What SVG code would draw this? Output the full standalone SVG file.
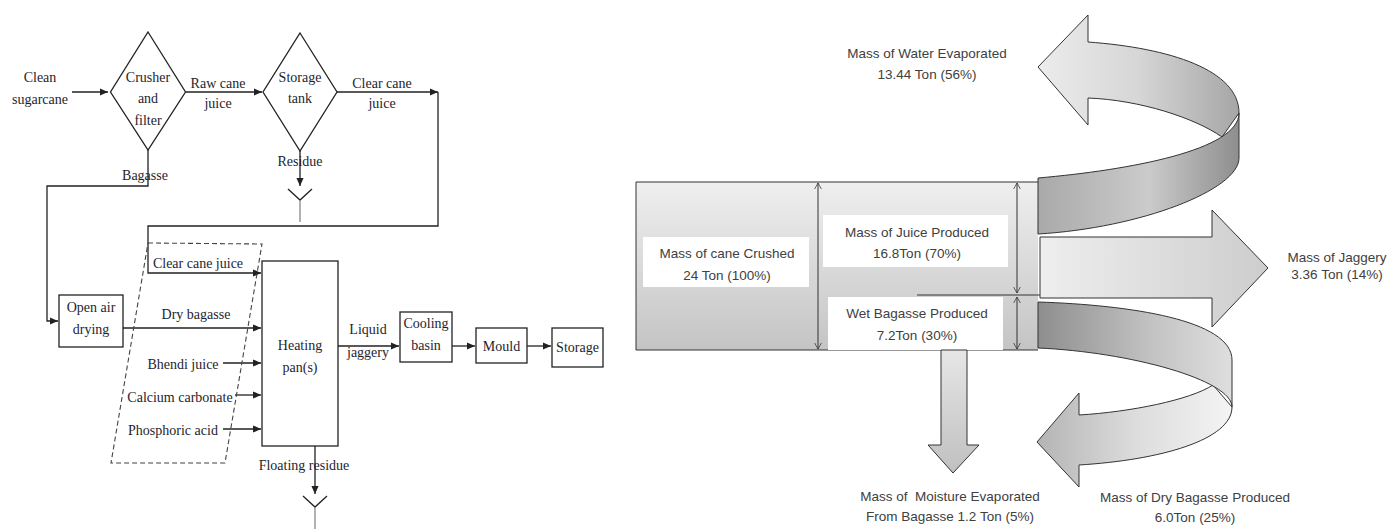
<svg xmlns="http://www.w3.org/2000/svg" width="1389" height="529" viewBox="0 0 1389 529">
<style>
.fc{fill:none;stroke:#222;stroke-width:1.3}
.fb{fill:#fff;stroke:#222;stroke-width:1.3}
.ft{font-family:"Liberation Serif","Times New Roman",serif;font-size:14px;fill:#1e1e2e;text-anchor:middle}
.gr{fill:none;stroke:#888;stroke-width:1.3}
.sk{stroke:#333;stroke-width:1}
.st{font-family:"Liberation Sans",Arial,sans-serif;font-size:13.5px;fill:#404040;text-anchor:middle}
.dim{fill:none;stroke:#333;stroke-width:1}
</style>
<defs>
<marker id="ah" viewBox="0 0 10 10" refX="10" refY="5" markerWidth="9" markerHeight="8" markerUnits="userSpaceOnUse" orient="auto">
<path d="M0,0.5 L10,5 L0,9.5 z" fill="#222"/>
</marker>
<marker id="oa" viewBox="0 0 8 10" refX="8" refY="5" markerWidth="6" markerHeight="8" markerUnits="userSpaceOnUse" orient="auto-start-reverse">
<path d="M0,0.5 L8,5 L0,9.5" fill="none" stroke="#333" stroke-width="1"/>
</marker>
<linearGradient id="gRect" x1="0" y1="0" x2="0" y2="1">
<stop offset="0" stop-color="#efefef"/><stop offset="1" stop-color="#c4c4c4"/>
</linearGradient>
<linearGradient id="gDown" x1="0" y1="0" x2="0" y2="1">
<stop offset="0" stop-color="#e6e6e6"/><stop offset="1" stop-color="#c0c0c0"/>
</linearGradient>
<linearGradient id="gJag" x1="0" y1="0" x2="1" y2="0">
<stop offset="0" stop-color="#eeeeee"/><stop offset="1" stop-color="#cdcdcd"/>
</linearGradient>
<linearGradient id="gTopBack" gradientUnits="userSpaceOnUse" x1="1038" y1="0" x2="1239" y2="0">
<stop offset="0" stop-color="#ececec"/><stop offset="0.5" stop-color="#d6d6d6"/><stop offset="1" stop-color="#a6a6a6"/>
</linearGradient>
<linearGradient id="gTopFront" gradientUnits="userSpaceOnUse" x1="1038" y1="0" x2="1239" y2="0">
<stop offset="0" stop-color="#a9a9a9"/><stop offset="0.55" stop-color="#cbcbcb"/><stop offset="1" stop-color="#8e8e8e"/>
</linearGradient>
<linearGradient id="gBotFront" gradientUnits="userSpaceOnUse" x1="1038" y1="0" x2="1232" y2="0">
<stop offset="0" stop-color="#8e8e8e"/><stop offset="0.6" stop-color="#c4c4c4"/><stop offset="1" stop-color="#dedede"/>
</linearGradient>
<linearGradient id="gBotBack" gradientUnits="userSpaceOnUse" x1="1037" y1="0" x2="1232" y2="0">
<stop offset="0" stop-color="#b4b4b4"/><stop offset="0.5" stop-color="#dcdcdc"/><stop offset="1" stop-color="#f4f4f4"/>
</linearGradient>
</defs>
<rect width="1389" height="529" fill="#fff"/>

<!-- ===== Flowchart ===== -->
<g id="connectors">
<path class="fc" d="M72,92 H108" marker-end="url(#ah)"/>
<path class="fc" d="M185.5,92 H262" marker-end="url(#ah)"/>
<path class="fc" d="M337,92 H438" marker-end="url(#ah)"/>
<path class="fc" d="M438,92 V226 H148 V273 H261" marker-end="url(#ah)"/>
<path class="fc" d="M148,150 V186 H47 V321 H58" marker-end="url(#ah)"/>
<path class="fc" d="M300,151 V186" marker-end="url(#ah)"/>
<path class="fc" d="M288,189 L300,200 L312,189"/>
<path class="gr" d="M300,200 V222"/>
<path class="fc" d="M123,328 H261" marker-end="url(#ah)"/>
<path class="fc" d="M223,363 H261" marker-end="url(#ah)"/>
<path class="fc" d="M235,395 H261" marker-end="url(#ah)"/>
<path class="fc" d="M223,429 H261" marker-end="url(#ah)"/>
<path class="fc" d="M315,446 V494" marker-end="url(#ah)"/>
<path class="fc" d="M303,496 L315,507 L327,496"/>
<path class="gr" d="M315,507 V529"/>
<path class="fc" d="M338,346 H399" marker-end="url(#ah)"/>
<path class="fc" d="M452,346 H475" marker-end="url(#ah)"/>
<path class="fc" d="M527,346 H551" marker-end="url(#ah)"/>
</g>

<g id="clean-sugarcane">
<text class="ft" x="40" y="82">Clean</text>
<text class="ft" x="40" y="104">sugarcane</text>
</g>
<g id="crusher">
<polygon class="fb" points="148,32 185.5,92 148,150 110.5,92"/>
<text class="ft" x="148" y="82">Crusher</text>
<text class="ft" x="148" y="103">and</text>
<text class="ft" x="148" y="125">filter</text>
</g>
<g id="raw-juice-label">
<text class="ft" x="218" y="88">Raw cane</text>
<text class="ft" x="218" y="108">juice</text>
</g>
<g id="storage-tank">
<polygon class="fb" points="300,33 337,92 300,151 263,92"/>
<text class="ft" x="300" y="82">Storage</text>
<text class="ft" x="300" y="103">tank</text>
</g>
<g id="clear-juice-label">
<text class="ft" x="382" y="88">Clear cane</text>
<text class="ft" x="382" y="108">juice</text>
</g>
<g id="residue-label"><text class="ft" x="300" y="166">Residue</text></g>
<g id="bagasse-label"><text class="ft" x="145" y="180">Bagasse</text></g>
<g id="open-air-drying">
<rect class="fb" x="59" y="295" width="64" height="52"/>
<text class="ft" x="91" y="312">Open air</text>
<text class="ft" x="91" y="334">drying</text>
</g>
<g id="additives">
<polygon points="148,243 262,244 225,463 111,463" fill="none" stroke="#444" stroke-width="1.1" stroke-dasharray="5,3"/>
<text class="ft" x="198" y="268">Clear cane juice</text>
<text class="ft" x="196" y="319">Dry bagasse</text>
<text class="ft" x="183" y="369">Bhendi juice</text>
<text class="ft" x="180" y="402">Calcium carbonate</text>
<text class="ft" x="173" y="435">Phosphoric acid</text>
</g>
<g id="heating-pan">
<rect class="fb" x="262" y="261" width="76" height="185"/>
<text class="ft" x="300" y="350">Heating</text>
<text class="ft" x="300" y="372">pan(s)</text>
</g>
<g id="floating-residue-label"><text class="ft" x="304" y="470">Floating residue</text></g>
<g id="liquid-jaggery-label">
<text class="ft" x="368" y="334">Liquid</text>
<text class="ft" x="368" y="357">jaggery</text>
</g>
<g id="cooling-basin">
<rect class="fb" x="400" y="312" width="52" height="50"/>
<text class="ft" x="426" y="328">Cooling</text>
<text class="ft" x="426" y="350">basin</text>
</g>
<g id="mould">
<rect class="fb" x="476" y="328" width="51" height="35"/>
<text class="ft" x="501.5" y="351">Mould</text>
</g>
<g id="storage">
<rect class="fb" x="552" y="328" width="51" height="39"/>
<text class="ft" x="577.5" y="352">Storage</text>
</g>

<!-- ===== Mass balance (Sankey) ===== -->
<g id="cane-block">
<rect x="636" y="182" width="402" height="168" fill="url(#gRect)"/>
<path class="sk" fill="none" d="M1038,182 H636 V350 H1038"/>
<rect x="643" y="237" width="166" height="50" fill="#fff"/>
<rect x="823" y="215" width="185" height="52" fill="#fff"/>
<rect x="828" y="297" width="175" height="53" fill="#fff"/>
<line class="dim" x1="818" y1="183" x2="818" y2="349" marker-start="url(#oa)" marker-end="url(#oa)"/>
<line class="dim" x1="1017" y1="183" x2="1017" y2="293" marker-start="url(#oa)" marker-end="url(#oa)"/>
<line class="dim" x1="1017" y1="297" x2="1017" y2="349" marker-start="url(#oa)" marker-end="url(#oa)"/>
<line class="dim" x1="917" y1="295" x2="1060" y2="295"/>
<text class="st" x="727" y="258">Mass of cane Crushed</text>
<text class="st" x="727" y="280">24 Ton (100%)</text>
<text class="st" x="917" y="237">Mass of Juice Produced</text>
<text class="st" x="917" y="258">16.8Ton (70%)</text>
<text class="st" x="917" y="318">Wet Bagasse Produced</text>
<text class="st" x="917" y="340">7.2Ton (30%)</text>
</g>

<g id="jaggery-arrow">
<path class="sk" fill="url(#gJag)" d="M1040,237 H1212 V210 L1268,268 L1212,327 V298 H1040 Z"/>
<text class="st" x="1337" y="262">Mass of Jaggery</text>
<text class="st" x="1337" y="279">3.36 Ton (14%)</text>
</g>

<g id="water-arrow">
<path class="sk" fill="url(#gTopBack)" d="M1239,113 C1239,70 1170,48 1088,42 L1088,15 L1038,67 L1088,125 L1088,98 C1140,100 1195,118 1222,137 Z"/>
<path class="sk" fill="url(#gTopFront)" d="M1038,178 C1130,170 1239,150 1239,113 L1239,158 C1239,190 1140,228 1038,234 Z"/>
<text class="st" x="927" y="58">Mass of Water Evaporated</text>
<text class="st" x="927" y="79">13.44 Ton (56%)</text>
</g>

<g id="dry-bagasse-arrow">
<path class="sk" fill="url(#gBotBack)" d="M1232,407 C1232,440 1160,460 1079,465 L1079,487 L1037,442 L1079,393 L1079,415 C1130,412 1190,400 1213,385 Z"/>
<path class="sk" fill="url(#gBotFront)" d="M1038,302 C1130,305 1232,320 1232,360 L1232,407 C1232,380 1130,352 1038,348 Z"/>
<text class="st" x="1195" y="502">Mass of Dry Bagasse Produced</text>
<text class="st" x="1195" y="522">6.0Ton (25%)</text>
</g>

<g id="moisture-arrow">
<path class="sk" fill="url(#gDown)" d="M941,350 V445 H928 L953,473 L979,445 H967 V350 Z"/>
<text class="st" x="950" y="501" xml:space="preserve">Mass of  Moisture Evaporated</text>
<text class="st" x="950" y="521">From Bagasse 1.2 Ton (5%)</text>
</g>
</svg>
